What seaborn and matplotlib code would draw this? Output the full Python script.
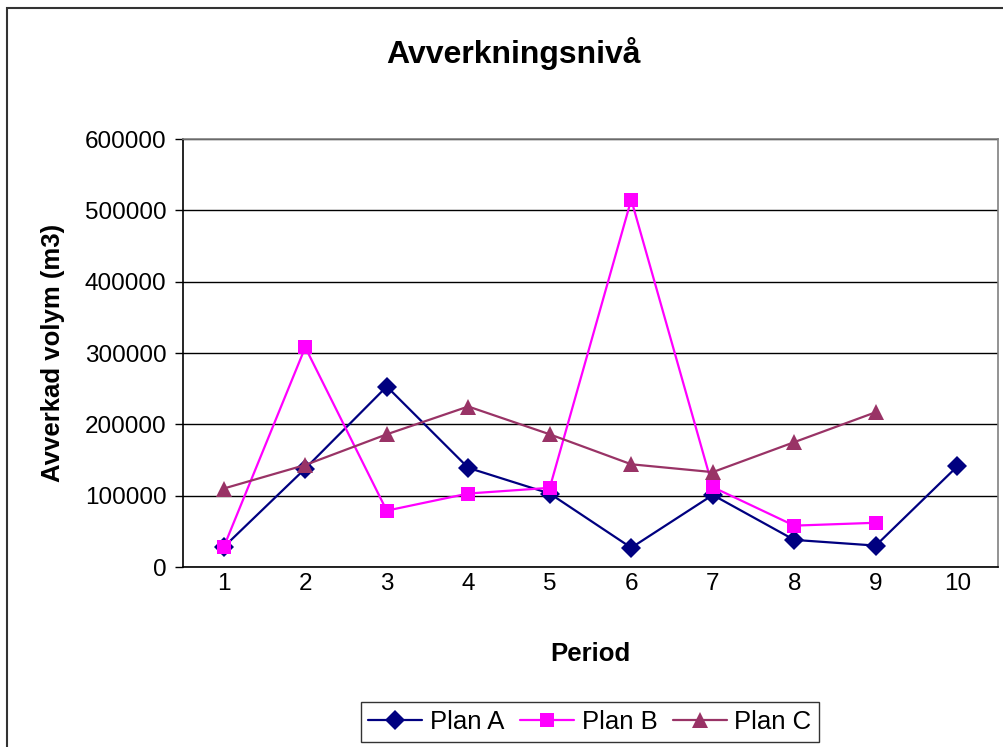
import numpy as np
import pandas as pd
import seaborn as sns
import matplotlib.pyplot as plt
from matplotlib.patches import Rectangle

# data
periods = [1, 2, 3, 4, 5, 6, 7, 8, 9, 10]
plan_a = [28000, 138000, 253000, 139000, 103000, 27000, 101000, 38000, 30000, 141000]
plan_b = [28000, 308000, 79000, 103000, 111000, 515000, 112000, 58000, 62000, np.nan]
plan_c = [110000, 143000, 186000, 225000, 186000, 144000, 133000, 175000, 217000, np.nan]
plans = ['Plan A', 'Plan B', 'Plan C']
colors = {'Plan A': '#000080', 'Plan B': '#FF00FF', 'Plan C': '#993366'}
markers = {'Plan A': 'D', 'Plan B': 's', 'Plan C': '^'}
msizes = {'Plan A': 10, 'Plan B': 9.5, 'Plan C': 11.5}

df = pd.DataFrame({'Period': periods * 3,
                   'Volym': plan_a + plan_b + plan_c,
                   'Plan': [p for p in plans for _ in periods]})

sns.set_style('white')
plt.rcParams['font.family'] = ['Liberation Sans', 'DejaVu Sans']
for k in ['text.color', 'axes.labelcolor', 'xtick.color', 'ytick.color']:
    plt.rcParams[k] = 'black'

fig = plt.figure(figsize=(10.04, 7.47), dpi=100)
ax = fig.add_axes([183/1004, 1 - 567/747, (998 - 183)/1004, (567 - 139)/747])

sns.lineplot(data=df, x='Period', y='Volym', hue='Plan', style='Plan',
             palette=colors, markers=markers, dashes=False, linewidth=1.6,
             markeredgewidth=0, ax=ax)
for line, p in zip(ax.lines[:3], plans):
    line.set_markersize(msizes[p])

ax.set_xlim(0.5, 10.5)
ax.set_ylim(0, 600000)
ax.set_yticks(range(0, 600001, 100000))
ax.set_yticklabels([str(v) for v in range(0, 600001, 100000)], fontsize=17.5)
ax.set_xticks(periods)
ax.set_xticklabels([str(p) for p in periods], fontsize=17.5)
ax.set_xticks(np.arange(0.5, 11, 1), minor=True)
ax.tick_params(axis='x', which='major', length=0, pad=4)
ax.tick_params(axis='x', which='minor', direction='out', length=6, width=1, color='black')
ax.tick_params(axis='y', direction='out', length=6, width=1, color='black', left=True, pad=6)
ax.yaxis.grid(True, color='black', linewidth=1)
ax.xaxis.grid(False)
for s in ['left', 'bottom']:
    ax.spines[s].set_color('black')
    ax.spines[s].set_linewidth(1.2)
for s in ['top', 'right']:
    ax.spines[s].set_color('#808080')
    ax.spines[s].set_linewidth(1.2)

ax.set_xlabel('Period', fontsize=18.5, fontweight='bold', labelpad=34)
ax.set_ylabel('Avverkad volym (m3)', fontsize=18.5, fontweight='bold', labelpad=14)
fig.text(513/1004, 1 - 53/747, 'Avverkningsnivå', ha='center', va='center',
         fontsize=23, fontweight='bold')

handles, labels = ax.get_legend_handles_labels()
for h, p in zip(handles, labels):
    h.set_markersize(msizes[p])
ax.legend_.remove()
leg = fig.legend(handles, labels, loc='center', bbox_to_anchor=(590/1004, 1 - 722/747),
                 ncol=3, fontsize=18.5, frameon=True, fancybox=False, edgecolor='black',
                 handlelength=2.1, columnspacing=0.6, handletextpad=0.3,
                 borderpad=0.3)
leg.get_frame().set_linewidth(1)

# outer chart frame
fig.patches.append(Rectangle((7/1004, -0.1), 1.2, 1 - 8/747 + 0.1, transform=fig.transFigure,
                             fill=False, edgecolor='#333333', linewidth=1.5, zorder=0))

fig.savefig('out.png', dpi=100)
